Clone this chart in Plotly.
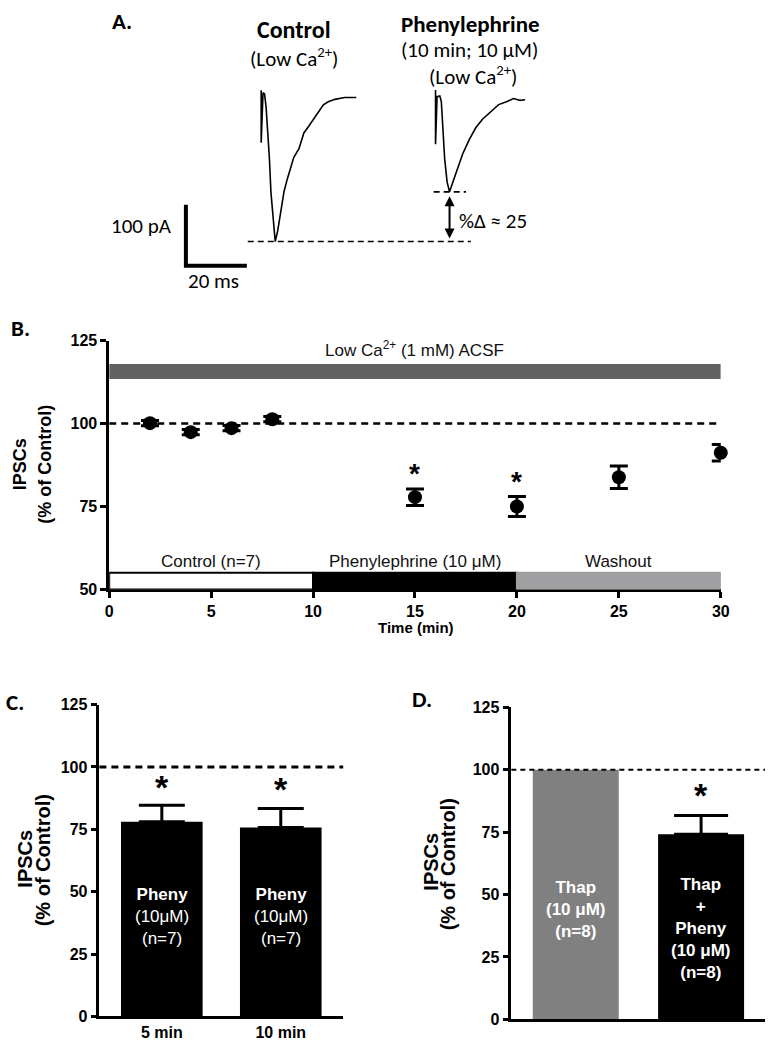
import plotly.graph_objects as go

W, H = 775, 1050

# ---- panel A: example IPSC traces (ms after stimulus, pA from baseline)
ctrl_t = [0, 0, 0.6, 1.1, 1.6, 2.1, 2.7, 3.2, 4.0, 4.6, 5.4, 6.5, 7.5, 8.6, 9.7,
          10.7, 12.4, 14.0, 15.6, 17.2, 18.8, 20.4, 22.0, 24.2, 27.4, 31.2]
ctrl_i = [12, -74, 8, 6, -15, -52, -100, -155, -208, -236, -219, -187, -154, -133, -114,
          -98, -84, -58, -47, -36, -23, -12, -7, -3, 0, 0]
pheny_t = [0, 0, 0.5, 1.4, 1.9, 2.5, 3.0, 3.8, 4.6, 5.7, 7.3, 8.9, 11.1, 13.2,
           15.4, 18.1, 20.7, 23.5, 25.6, 27.7, 29.4]
pheny_i = [14, -75, 3, 4, -5, -51, -99, -137, -153, -137, -112, -91, -67, -48,
           -34, -21, -10, -5, 0, -3, -2]
scale_pa = 100
scale_ms = 20

# ---- panel B: time course
time_min = [2, 4, 6, 8, 15, 20, 25, 30]
ipsc_pct = [100.1, 97.4, 98.6, 101.3, 77.8, 75.0, 83.8, 91.2]
ipsc_sem = [0.8, 0.8, 0.8, 0.8, 2.5, 3.0, 3.4, 2.5]
sig_time = [15, 20]
sig_level = [84.8, 82.4]
phase_names = ['Control (n=7)', 'Phenylephrine (10 \u03bcM)', 'Washout']
phase_start = [0, 10, 20]
phase_end = [10, 20, 30]
phase_fill = ['white', 'black', '#a0a0a2']
acsf_low, acsf_high = 113.4, 117.9

# ---- panel C
c_cats = ['5 min', '10 min']
c_vals = [78.0, 75.7]
c_sem = [6.6, 7.6]
c_star = [92.0, 91.0]
c_text = ['<b>Pheny</b><br>(10\u03bcM)<br>(n=7)', '<b>Pheny</b><br>(10\u03bcM)<br>(n=7)']

# ---- panel D
d_cats = ['Thap', 'Thap + Pheny']
d_vals = [100, 74.2]
d_sem = [None, 7.5]
d_star = [None, 89.9]
d_text = ['<b>Thap<br>(10 \u03bcM)<br>(n=8)</b>', '<b>Thap<br>+<br>Pheny<br>(10 \u03bcM)<br>(n=8)</b>']
d_colors = ['#808080', 'black']


def px(x):
    return x / W


def py(y):
    return 1 - y / H


ARIAL = 'Liberation Sans, Arial, sans-serif'
CALIBRI = 'Carlito, Lato, sans-serif'

fig = go.Figure()

# panel A traces
px_per_ms, px_per_pa = 3.1, 0.62
ctrl_off = (24.7, 275.8)
pheny_off = (81.9, 274.2)
fig.add_trace(go.Scatter(x=[t + ctrl_off[0] for t in ctrl_t], y=[i + ctrl_off[1] for i in ctrl_i],
                         mode='lines', line=dict(color='black', width=1.6), xaxis='x4', yaxis='y4'))
fig.add_trace(go.Scatter(x=[t + pheny_off[0] for t in pheny_t], y=[i + pheny_off[1] for i in pheny_i],
                         mode='lines', line=dict(color='black', width=1.6), xaxis='x4', yaxis='y4'))
fig.add_trace(go.Scatter(x=[0, 0, scale_ms], y=[scale_pa, 0, 0], mode='lines',
                         line=dict(color='black', width=4), xaxis='x4', yaxis='y4'))
ctrl_min = min(ctrl_i) + ctrl_off[1]
pheny_min = min(pheny_i) + pheny_off[1]
fig.add_trace(go.Scatter(x=[20.3, 93.5], y=[ctrl_min, ctrl_min], mode='lines',
                         line=dict(color='black', width=1.6, dash='6px,4px'), xaxis='x4', yaxis='y4'))
fig.add_trace(go.Scatter(x=[81.3, 91.9], y=[pheny_min, pheny_min], mode='lines',
                         line=dict(color='black', width=1.6, dash='6px,4px'), xaxis='x4', yaxis='y4'))

# panel B
for name, s, e, c in zip(phase_names, phase_start, phase_end, phase_fill):
    fig.add_shape(type='rect', xref='x', yref='y', x0=s, x1=e, y0=50, y1=55,
                  fillcolor=c, line=dict(color='black' if c != '#a0a0a2' else '#a0a0a2', width=2))
    fig.add_annotation(x=(s + e) / 2, y=58.3, xref='x', yref='y', text=name, showarrow=False,
                       font=dict(family=ARIAL, size=17, color='#111'))
fig.add_shape(type='rect', xref='x', yref='y', x0=0, x1=30, y0=acsf_low, y1=acsf_high,
              fillcolor='#616161', line=dict(width=0))
fig.add_annotation(x=15, y=122.4, xref='x', yref='y', text='Low Ca<sup>2+</sup> (1 mM) ACSF',
                   showarrow=False, font=dict(family=ARIAL, size=17, color='#111'))
fig.add_shape(type='line', xref='x', yref='y', x0=0, x1=30, y0=100, y1=100,
              line=dict(color='black', width=2.5, dash='7px,5px'))
fig.add_trace(go.Scatter(x=time_min, y=ipsc_pct, mode='markers',
                         marker=dict(color='black', size=14),
                         error_y=dict(type='data', array=ipsc_sem, color='black', thickness=3, width=9),
                         cliponaxis=False, xaxis='x', yaxis='y'))
for t, lv in zip(sig_time, sig_level):
    fig.add_annotation(x=t, y=lv, xref='x', yref='y', text='<b>*</b>', showarrow=False,
                       font=dict(family=ARIAL, size=28, color='black'))

# panel C
fig.add_shape(type='line', xref='x2 domain', yref='y2', x0=0, x1=1, y0=100, y1=100,
              line=dict(color='black', width=3, dash='7px,5px'))
fig.add_trace(go.Bar(x=c_cats, y=c_vals, width=0.686, marker=dict(color='black', line=dict(width=0)),
                     error_y=dict(type='data', symmetric=False, array=c_sem, arrayminus=[0, 0],
                                  color='black', thickness=3, width=23),
                     xaxis='x2', yaxis='y2'))
for cat, s, txt in zip(c_cats, c_star, c_text):
    fig.add_annotation(x=cat, y=s, xref='x2', yref='y2', text='<b>*</b>', showarrow=False,
                       font=dict(family=ARIAL, size=34, color='black'))
    fig.add_annotation(x=cat, y=40.2, xref='x2', yref='y2', text=txt, showarrow=False,
                       font=dict(family=ARIAL, size=17, color='white'))

# panel D: one trace per bar so only the second gets an error bar
fig.add_shape(type='line', xref='x3 domain', yref='y3', x0=0, x1=1, y0=100, y1=100,
              line=dict(color='black', width=2, dash='5px,4px'))
for cat, v, e, col in zip(d_cats, d_vals, d_sem, d_colors):
    err = dict(type='data', symmetric=False, array=[e], arrayminus=[0],
               color='black', thickness=3, width=27, visible=e is not None)
    fig.add_trace(go.Bar(x=[cat], y=[v], width=0.686, marker=dict(color=col, line=dict(width=0)),
                         error_y=err, xaxis='x3', yaxis='y3'))
d_text_y = [44.2, 36.3]
for cat, s, txt, ty in zip(d_cats, d_star, d_text, d_text_y):
    if s is not None:
        fig.add_annotation(x=cat, y=s, xref='x3', yref='y3', text='<b>*</b>', showarrow=False,
                           font=dict(family=ARIAL, size=34, color='black'))
    fig.add_annotation(x=cat, y=ty, xref='x3', yref='y3', text=txt, showarrow=False,
                       font=dict(family=ARIAL, size=17, color='white'))


# labels placed by pixel position
def label(x, y, text, size, xanchor='center', family=CALIBRI, angle=0):
    fig.add_annotation(x=px(x), y=py(y), xref='paper', yref='paper', text=text, showarrow=False,
                       xanchor=xanchor, yanchor='middle', textangle=angle,
                       font=dict(family=family, size=size, color='black'))


label(108, 13, '<b>A.</b>', 23, 'left')
label(295, 22, '<b>Control</b>', 24)
label(295, 50, '(Low Ca<sup>2+</sup>)', 21)
label(474, 16, '<b>Phenylephrine</b>', 23)
label(473, 43, '(10 min; 10 \u03bcM)', 21)
label(477, 69, '(Low Ca<sup>2+</sup>)', 21)
label(140, 222, '100 pA', 21)
label(213, 277, '20 ms', 21)
label(461, 217, '%\u0394 \u2248 25', 21, 'left')
fig.add_annotation(x=86.5, y=ctrl_min, ax=86.5, ay=pheny_min, xref='x4', yref='y4',
                   axref='x4', ayref='y4', text='', showarrow=True, arrowhead=2, arrowcolor='black',
                   arrowside='end+start', arrowwidth=2, arrowsize=1, standoff=3, startstandoff=3)

label(5, 325, '<b>B.</b>', 23, 'left')
label(0, 705, '<b>C.</b>', 23, 'left')
label(413, 702, '<b>D.</b>', 23, 'left')

label(17, 464, '<b>IPSCs</b>', 18, family=ARIAL, angle=-90)
label(42, 464, '<b>(% of Control)</b>', 18, family=ARIAL, angle=-90)
label(419, 630, '<b>Time (min)</b>', 15, family=ARIAL)
label(21, 865, '<b>IPSCs</b>', 20, family=ARIAL, angle=-90)
label(40, 866, '<b>(% of Control)</b>', 20, family=ARIAL, angle=-90)
label(434, 868, '<b>IPSCs</b>', 20, family=ARIAL, angle=-90)
label(451, 870, '<b>(% of Control)</b>', 20, family=ARIAL, angle=-90)

axis_style = dict(showline=True, linecolor='black', linewidth=2.5, ticks='outside', ticklen=6,
                  tickwidth=2.5, tickcolor='black', showgrid=False, zeroline=False,
                  tickfont=dict(family=ARIAL, size=16, color='black', weight='bold'))

fig.update_layout(
    width=W, height=H, margin=dict(l=0, r=0, t=0, b=0),
    paper_bgcolor='white', plot_bgcolor='white', showlegend=False,
    xaxis=dict(domain=[px(107), px(729)], range=[0, 30], tickvals=[0, 5, 10, 15, 20, 25, 30],
               anchor='y', **axis_style),
    yaxis=dict(domain=[py(591), py(338)], range=[50, 125], tickvals=[50, 75, 100, 125],
               anchor='x', **axis_style),
    xaxis2=dict(domain=[px(97), px(345)], range=[-0.525, 1.525], anchor='y2',
                **{**axis_style, 'ticks': ''}),
    yaxis2=dict(domain=[py(1025), py(708)], range=[0, 125], tickvals=[0, 25, 50, 75, 100, 125],
                anchor='x2', **axis_style),
    xaxis3=dict(domain=[px(516), px(774)], range=[-0.514, 1.51], anchor='y3', showticklabels=False,
                **{**axis_style, 'ticks': ''}),
    yaxis3=dict(domain=[py(1028), py(711)], range=[0, 125], tickvals=[0, 25, 50, 75, 100, 125],
                anchor='x3', **axis_style),
    xaxis4=dict(domain=[px(100), px(560)], range=[(100 - 185) / px_per_ms, (560 - 185) / px_per_ms],
                anchor='y4', visible=False),
    yaxis4=dict(domain=[py(290), py(80)], range=[(262 - 290) / px_per_pa, (262 - 80) / px_per_pa],
                anchor='x4', visible=False),
)

# drop the default page margin and scrollbars so the figure fills the window exactly
fig.write_html('out.html', config={'displayModeBar': False},
               post_script="document.body.style.margin='0';"
                           "document.body.style.overflow='hidden';"
                           "document.documentElement.style.overflow='hidden';")
